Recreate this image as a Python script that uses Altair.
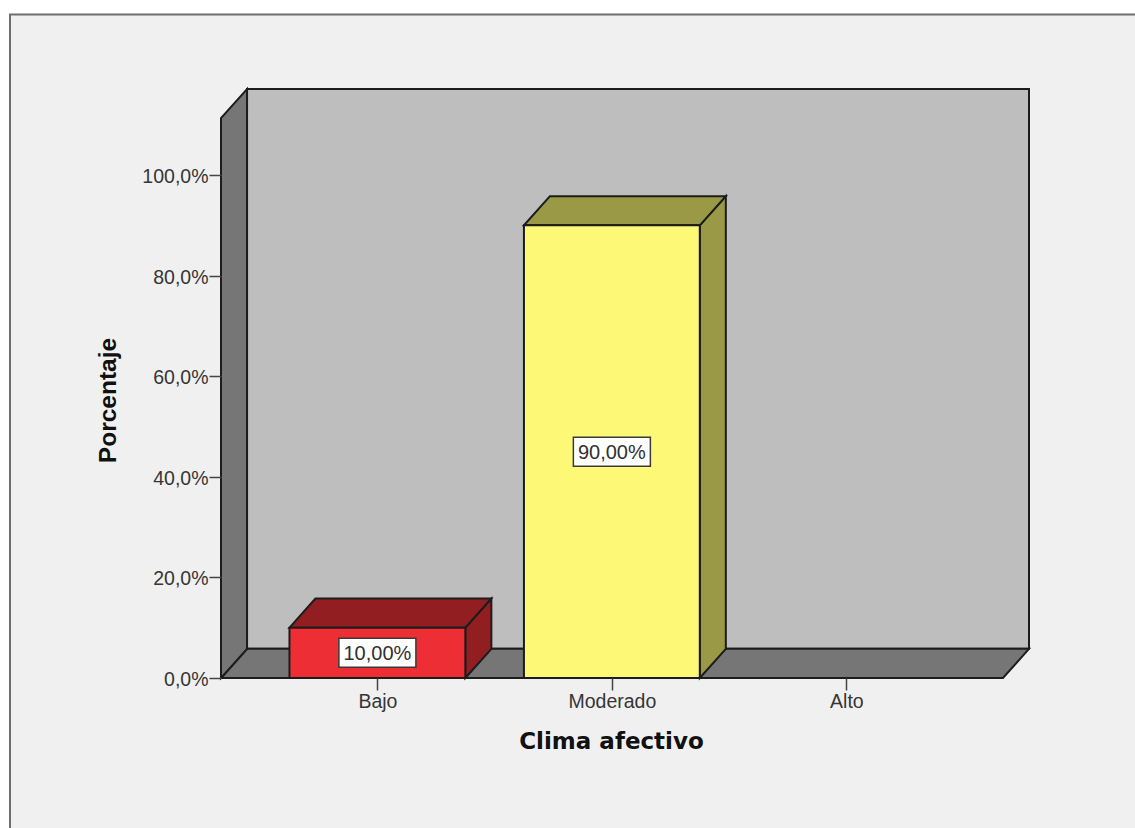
import altair as alt
import pandas as pd

categories = ["Bajo", "Moderado", "Alto"]
values = [10.0, 90.0, 0.0]
value_labels = ["10,00%", "90,00%", ""]
front_colors = ["#ee2e35", "#fdf875", "#3c78c8"]
shade_colors = ["#931e22", "#9a9a46", "#25497a"]
y_ticks = [0, 20, 40, 60, 80, 100]

# Extent of the box, in axis units: one x unit is one category slot.
X_LEFT, X_RIGHT = -0.667, 2.668
DEPTH_X, DEPTH_Y = 0.111, 5.8
WALL_TOP = 111.3
BAR_HALF = 0.375
X_DOMAIN = [X_LEFT, X_RIGHT + DEPTH_X]
Y_DOMAIN = [0, WALL_TOP + DEPTH_Y]

INK = "#1c1c1c"
WALL_DARK = "#767676"
WALL_LIGHT = "#bebebe"
TEXT = "#363636"
FONT = "Liberation Sans"

x_scale = alt.Scale(domain=X_DOMAIN, nice=False, zero=False)
y_scale = alt.Scale(domain=Y_DOMAIN, nice=False, zero=False)
x_axis = alt.Axis(
    values=[0, 1, 2], labelExpr="['Bajo','Moderado','Alto'][datum.value]",
    domain=False, grid=False, tickSize=12, tickColor="#444444", tickWidth=1.5,
    labelFont=FONT, labelFontSize=19.5, labelColor=TEXT, labelPadding=2,
    labelOverlap=False, zindex=1,
    titleFont="DejaVu Sans", titleFontSize=23, titleFontWeight="bold", titleColor="#111111",
    titleX=390, titleY=63, titleAnchor="middle", titleBaseline="middle",
)
y_axis = alt.Axis(
    values=y_ticks, labelExpr="replace(format(datum.value, '.1f'), '.', ',') + '%'",
    domain=False, grid=False, tickSize=12, tickColor="#444444", tickWidth=1.5,
    labelFont=FONT, labelFontSize=19.5, labelColor=TEXT, labelPadding=1, labelOffset=1.5,
    labelOverlap=False, zindex=1,
    titleFont=FONT, titleFontSize=24.5, titleFontWeight="bold", titleColor="#111111",
    titleX=-113, titleY=311, titleAngle=-90, titleAnchor="middle", titleBaseline="middle",
)
X = alt.X("x:Q", scale=x_scale, axis=x_axis, title="Clima afectivo")
Y = alt.Y("y:Q", scale=y_scale, axis=y_axis, title="Porcentaje")
outline = dict(stroke=INK, strokeWidth=2, strokeJoin="miter")

# Bars with a value get a front face plus shaded side and top faces.
drawn = [i for i, v in enumerate(values) if v > 0]
front = pd.DataFrame({
    "x": [i - BAR_HALF for i in drawn],
    "x2": [i + BAR_HALF for i in drawn],
    "y": [0.0 for _ in drawn],
    "y2": [values[i] for i in drawn],
    "cat": [categories[i] for i in drawn],
})
side = pd.DataFrame([
    {"cat": categories[i], "x": i + BAR_HALF + d * DEPTH_X,
     "y": d * DEPTH_Y, "y2": values[i] + d * DEPTH_Y}
    for i in drawn for d in (0, 1)
])
top = pd.DataFrame([
    {"cat": categories[i], "y": values[i] + d * DEPTH_Y,
     "x": i - BAR_HALF + d * DEPTH_X, "x2": i + BAR_HALF + d * DEPTH_X}
    for i in drawn for d in (0, 1)
])
tags = pd.DataFrame({
    "x": drawn,
    "y": [values[i] / 2 for i in drawn],
    "label": [value_labels[i] for i in drawn],
})

color_front = alt.Color("cat:N", scale=alt.Scale(domain=categories, range=front_colors), legend=None)
color_shade = alt.Color("cat:N", scale=alt.Scale(domain=categories, range=shade_colors), legend=None)

# Panel frame: only the top and left edges fall inside the page.
panel = alt.Chart(pd.DataFrame({"a": [0]})).mark_rect(
    fill="#f0f0f0", stroke="#6e6e6e", strokeWidth=2
).encode(x=alt.value(-211), x2=alt.value(1000), y=alt.value(-74.5), y2=alt.value(800))

# The open box: back wall, floor and left wall.
back_wall = alt.Chart(pd.DataFrame({
    "x": [X_LEFT + DEPTH_X], "x2": [X_RIGHT + DEPTH_X], "y": [DEPTH_Y], "y2": [WALL_TOP + DEPTH_Y],
})).mark_rect(fill=WALL_LIGHT, **outline).encode(x=X, x2="x2:Q", y=Y, y2="y2:Q")

floor = alt.Chart(pd.DataFrame({
    "y": [0.0, DEPTH_Y],
    "x": [X_LEFT, X_LEFT + DEPTH_X],
    "x2": [X_RIGHT, X_RIGHT + DEPTH_X],
})).mark_area(orient="horizontal", fill=WALL_DARK, **outline).encode(x=X, x2="x2:Q", y=Y)

left_wall = alt.Chart(pd.DataFrame({
    "x": [X_LEFT, X_LEFT + DEPTH_X],
    "y": [0.0, DEPTH_Y],
    "y2": [WALL_TOP, WALL_TOP + DEPTH_Y],
})).mark_area(fill=WALL_DARK, **outline).encode(x=X, y=Y, y2="y2:Q")

bar_side = alt.Chart(side).mark_area(**outline).encode(
    x=X, y=Y, y2="y2:Q", fill=color_shade, detail="cat:N"
)
bar_top = alt.Chart(top).mark_area(orient="horizontal", **outline).encode(
    x=X, x2="x2:Q", y=Y, fill=color_shade, detail="cat:N"
)
bar_front = alt.Chart(front).mark_rect(**outline).encode(
    x=X, x2="x2:Q", y=Y, y2="y2:Q", fill=color_front
)

tag_box = alt.Chart(tags).mark_rect(
    width=77, height=29, fill="white", stroke="#3a3a3a", strokeWidth=1.5
).encode(x=X, y=Y)
tag_text = alt.Chart(tags).mark_text(
    font=FONT, fontSize=20, color="#303030", align="center", baseline="middle", dy=1
).encode(x=X, y=Y, text="label:N")

chart = alt.layer(
    panel, back_wall, floor, left_wall, bar_side, bar_top, bar_front, tag_box, tag_text
).resolve_scale(fill="independent").properties(
    width=808,
    height=589,
    padding={"left": 221, "top": 89, "right": 106, "bottom": 150},
    autosize=alt.AutoSizeParams(type="none"),
    background="white",
).configure_view(strokeWidth=0)

chart.save("out.html", embed_options={"renderer": "svg", "actions": False})
